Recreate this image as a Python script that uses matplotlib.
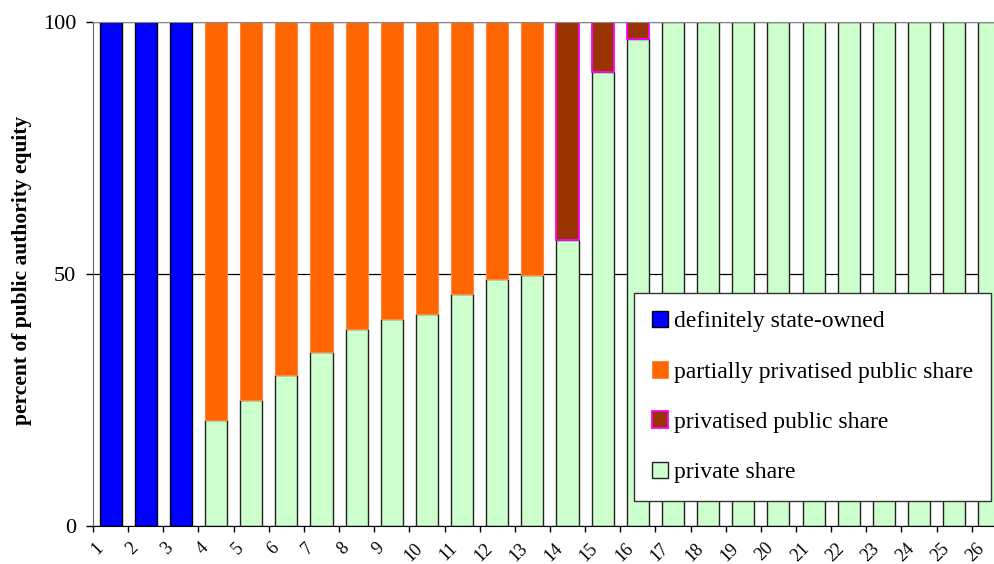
import matplotlib
matplotlib.use("Agg")
from matplotlib import pyplot as plt
from matplotlib import transforms
import numpy as np

plt.rcParams['font.family'] = ['Liberation Serif', 'DejaVu Serif']

# companies 1..26, shares in percent of public authority equity
companies = list(range(1, 27))
state_owned = [100, 100, 100] + [0] * 23
private_share = [0, 0, 0, 21, 25, 30, 34.5, 39, 41, 42, 46, 49, 49.8,
                 56.7, 90, 96.6] + [100] * 10
partially_public = [0, 0, 0, 79, 75, 70, 65.5, 61, 59, 58, 54, 51, 50.2,
                    0, 0, 0] + [0] * 10
privatised_public = [0] * 13 + [43.3, 10, 3.4] + [0] * 10

labels = ['definitely state-owned', 'partially privatised public share',
          'privatised public share', 'private share']

x = np.array(companies)
width = 0.63

fig = plt.figure(figsize=(9.94, 5.64), dpi=100)
ax = fig.add_axes([93 / 994, 1 - 525.7 / 564, 1 - 93 / 994, (525.7 - 22) / 564])

state = np.array(state_owned)
priv = np.array(private_share)
part = np.array(partially_public)
privpub = np.array(privatised_public)

h_green = ax.bar(x, priv, width, color='#CCFFCC', edgecolor='#222222', linewidth=1.0)
h_blue = ax.bar(x, state, width, color='#0000FF', edgecolor='#000000', linewidth=1.0)
h_orange = ax.bar(x, part, width, bottom=priv, color='#FF6600', edgecolor='#FF8844', linewidth=0.8)
h_brown = ax.bar(x, privpub, width, bottom=priv, color='#993300', edgecolor='#FF00FF', linewidth=1.3)

# hide empty zero-height bars
for bars, vals in [(h_blue, state), (h_orange, part), (h_brown, privpub)]:
    for b, v in zip(bars, vals):
        if v == 0:
            b.set_visible(False)

ax.set_xlim(0.5, 0.5 + (994 - 93) / 35.15)
ax.set_ylim(0, 100)
ax.set_yticks([0, 50, 100])
ax.tick_params(axis='y', labelsize=16, length=5, width=1, pad=7, direction='out')
ax.set_xticks(x - 0.5)
ax.set_xticklabels([str(c) for c in companies], rotation=45, ha='center', va='top')
ax.tick_params(axis='x', labelsize=13, length=4, width=1, pad=6, direction='out')
shift = transforms.ScaledTranslation(4 / 100, 0, fig.dpi_scale_trans)
for lab in ax.get_xticklabels():
    lab.set_transform(lab.get_transform() + shift)

ax.set_axisbelow(True)
ax.yaxis.grid(True, color='black', linewidth=0.9)
ax.spines['right'].set_visible(False)
ax.spines['top'].set_color('#888888')
ax.spines['left'].set_color('#666666')
ax.spines['bottom'].set_color('black')

fig.text(22 / 994, 1 - 270 / 564, 'percent of public authority equity', rotation=90,
         ha='center', va='center', fontsize=15.5, fontweight='bold')

leg = ax.legend([h_blue[0], h_orange[3], h_brown[13], h_green[5]], labels,
                loc='upper left', bbox_to_anchor=(634 / 994, 1 - 293 / 564),
                bbox_transform=fig.transFigure, fontsize=17, frameon=True,
                fancybox=False, framealpha=1, edgecolor='#333333',
                labelspacing=1.22, handlelength=0.7, handleheight=0.7,
                handletextpad=0.25, borderpad=0.75, borderaxespad=0)
leg.get_frame().set_linewidth(1.0)

fig.savefig('out.png', dpi=100)
